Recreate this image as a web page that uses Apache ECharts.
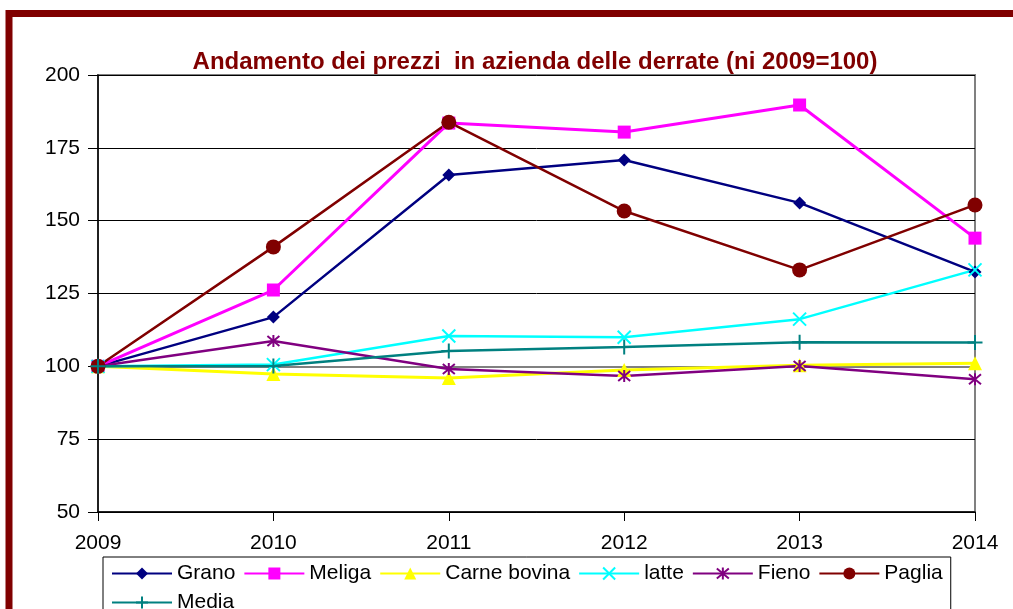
<!DOCTYPE html>
<html>
<head>
<meta charset="utf-8">
<script src="https://cdn.jsdelivr.net/npm/echarts@6/dist/echarts.min.js"></script>
<style>
  html, body {margin: 0; padding: 0; background: #fff;}
  #chart {width: 1013px; height: 609px;}
</style>
</head>
<body>
<div id="chart"></div>
<script>
const years = ["2009", "2010", "2011", "2012", "2013", "2014"];
const grano = [100, 116.9, 165.7, 170.8, 156.1, 132.4];
const meliga = [100, 126.2, 183.5, 180.4, 189.7, 144.0];
const carneBovina = [100, 97.4, 96.0, 98.7, 100.4, 101.1];
const latte = [100, 100.6, 110.4, 110.0, 116.2, 133.1];
const fieno = [100, 108.7, 99.1, 96.7, 100.1, 95.6];
const paglia = [100, 141.0, 183.8, 153.3, 133.1, 155.4];
const media = [100, 100.1, 105.3, 106.6, 108.3, 108.2];

// stroke-only symbols
const crossPath = "path://M0,0L10,10M10,0L0,10";
const starPath = "path://M0,0L10,10M10,0L0,10M5,-1L5,11";
const plusPath = "path://M5,0L5,10M0,5L10,5";

const chart = echarts.init(document.getElementById("chart"));

function lineSeries(name, data, color, symbol, size, width, stroke) {
    return {
        name: name,
        type: "line",
        data: data,
        symbol: symbol,
        symbolSize: size,
        showSymbol: true,
        color: color,
        lineStyle: {color: color, width: width},
        itemStyle: stroke
            ? {color: "rgba(0,0,0,0)", borderColor: color, borderWidth: 2}
            : {color: color, borderWidth: 0},
        emphasis: {disabled: true},
        z: 3
    };
}

const series = [
    lineSeries("Grano", grano, "#000080", "diamond", 13, 2.5, false),
    lineSeries("Meliga", meliga, "#FF00FF", "rect", 13, 3, false),
    lineSeries("Carne bovina", carneBovina, "#FFFF00", "triangle", 14, 3, false),
    lineSeries("latte", latte, "#00FFFF", crossPath, 13, 2.5, true),
    lineSeries("Fieno", fieno, "#800080", starPath, 12, 2.5, true),
    lineSeries("Paglia", paglia, "#800000", "circle", 15, 2.5, false),
    lineSeries("Media", media, "#008080", plusPath, 15, 2.5, true)
];

// gray reference line at 100
series[6].markLine = {
    silent: true,
    symbol: "none",
    label: {show: false},
    lineStyle: {color: "#808080", width: 2, type: "solid"},
    data: [{yAxis: 100}],
    z: 1
};

const font = "Liberation Sans, Arial, sans-serif";

chart.setOption({
    animation: false,
    backgroundColor: "#fff",
    textStyle: {fontFamily: font},
    title: {
        text: "Andamento dei prezzi  in azienda delle derrate (ni 2009=100)",
        left: 530,
        textAlign: "center",
        top: 45,
        textStyle: {color: "#800000", fontSize: 24, fontWeight: "bold", fontFamily: font}
    },
    grid: {
        left: 98, right: 38, top: 75, bottom: 97,
        show: true, borderColor: "#808080", borderWidth: 2, backgroundColor: "#fff"
    },
    legend: {
        left: 103,
        top: 557,
        width: 843,
        padding: [6, 8, 3, 8],
        borderColor: "#000",
        borderWidth: 1,
        itemWidth: 60,
        itemHeight: 15,
        itemGap: 8,
        textStyle: {fontSize: 21, lineHeight: 21, color: "#000", fontFamily: font},
        data: ["Grano", "Meliga", "Carne bovina", "latte", "Fieno", "Paglia", "Media"]
    },
    xAxis: {
        type: "category",
        data: years,
        boundaryGap: false,
        axisLine: {lineStyle: {color: "#000", width: 1.5}},
        axisTick: {show: true, length: 9, lineStyle: {color: "#000"}},
        axisLabel: {color: "#000", fontSize: 21, margin: 21},
        splitLine: {show: false}
    },
    yAxis: {
        type: "value",
        min: 50,
        max: 200,
        interval: 25,
        axisLine: {show: true, lineStyle: {color: "#000", width: 1.5}},
        axisTick: {show: true, length: 10, lineStyle: {color: "#000"}},
        axisLabel: {color: "#000", fontSize: 21, margin: 18},
        splitLine: {show: true, lineStyle: {color: "#000", width: 1}}
    },
    graphic: [{
        type: "rect",
        shape: {x: 9, y: 13.5, width: 1030, height: 640},
        style: {fill: null, stroke: "#800000", lineWidth: 7},
        silent: true,
        z: 100
    }],
    series: series
});
</script>
</body>
</html>
